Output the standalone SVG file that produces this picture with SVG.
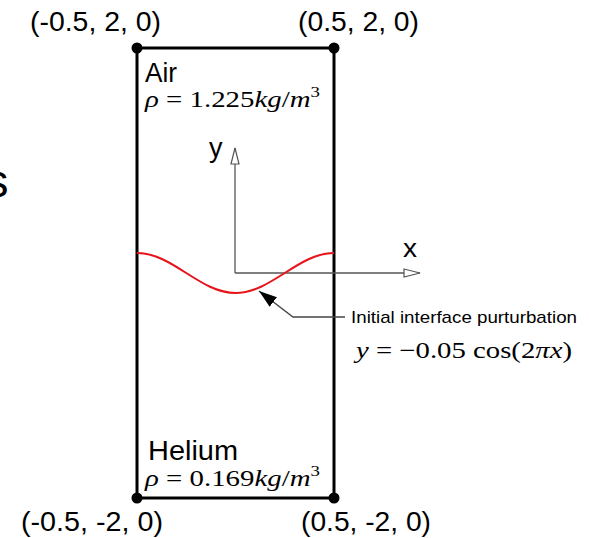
<svg xmlns="http://www.w3.org/2000/svg" width="589" height="538" viewBox="0 0 589 538">
<style>
.lbl{font-family:"Liberation Sans",Arial,sans-serif;fill:#000}
.coord{font-size:27px}
.math{font-family:"Liberation Serif","Times New Roman",serif;fill:#000;font-size:23px}
.it{font-style:italic}
.axis{stroke:#555;stroke-width:1.3;fill:none}
.dot{fill:#000}
</style>
<defs>
<marker id="open" markerUnits="userSpaceOnUse" markerWidth="20" markerHeight="12" refX="17" refY="5" orient="auto">
<path d="M1,1 L17,5 L1,9 Z" fill="#fff" stroke="#555" stroke-width="1.2"/>
</marker>
<marker id="solid" markerUnits="userSpaceOnUse" markerWidth="20" markerHeight="14" refX="18" refY="6" orient="auto">
<path d="M0,0 L18,6 L0,12 Z" fill="#000"/>
</marker>
</defs>
<rect width="589" height="538" fill="#fff"/>
<text class="lbl" x="-15" y="197" font-size="47">s</text>
<g id="domain">
<rect x="137" y="48" width="197" height="450" fill="none" stroke="#000" stroke-width="3"/>
</g>
<g id="corners">
<circle class="dot" cx="137" cy="48" r="5.5"/>
<circle class="dot" cx="334" cy="48" r="5.5"/>
<circle class="dot" cx="137" cy="498" r="5.5"/>
<circle class="dot" cx="334" cy="498" r="5.5"/>
<text class="lbl coord" x="30" y="31" textLength="131" lengthAdjust="spacingAndGlyphs">(-0.5, 2, 0)</text>
<text class="lbl coord" x="298" y="31" textLength="121" lengthAdjust="spacingAndGlyphs">(0.5, 2, 0)</text>
<text class="lbl coord" x="21" y="531" textLength="142" lengthAdjust="spacingAndGlyphs">(-0.5, -2, 0)</text>
<text class="lbl coord" x="301" y="531" textLength="130" lengthAdjust="spacingAndGlyphs">(0.5, -2, 0)</text>
</g>
<g id="air">
<text class="lbl" x="145" y="82" font-size="27" textLength="32" lengthAdjust="spacingAndGlyphs">Air</text>
<text class="math" x="145" y="107" textLength="175" lengthAdjust="spacingAndGlyphs"><tspan class="it">ρ</tspan> = 1.225<tspan class="it">kg</tspan>/<tspan class="it">m</tspan><tspan font-size="15" dy="-10">3</tspan></text>
</g>
<g id="helium">
<text class="lbl" x="148" y="460" font-size="27" textLength="90" lengthAdjust="spacingAndGlyphs">Helium</text>
<text class="math" x="145" y="486" textLength="175" lengthAdjust="spacingAndGlyphs"><tspan class="it">ρ</tspan> = 0.169<tspan class="it">kg</tspan>/<tspan class="it">m</tspan><tspan font-size="15" dy="-10">3</tspan></text>
</g>
<g id="axes">
<line class="axis" x1="235" y1="273" x2="235" y2="148" marker-end="url(#open)"/>
<line class="axis" x1="235" y1="273" x2="420" y2="273" marker-end="url(#open)"/>
<text class="lbl" x="209" y="157" font-size="27">y</text>
<text class="lbl" x="403" y="257" font-size="25" textLength="14" lengthAdjust="spacingAndGlyphs">x</text>
</g>
<g id="interface">
<path d="M137,253 C172.8,253 199.7,293 235.5,293 C271.3,293 298.2,253 334,253" fill="none" stroke="#e8141c" stroke-width="2"/>
</g>
<g id="connectors">
<polyline points="345,317 293,317 259,291" fill="none" stroke="#444" stroke-width="1.3" marker-end="url(#solid)"/>
</g>
<g id="annotation">
<text class="lbl" x="351" y="323" font-size="17" textLength="226" lengthAdjust="spacingAndGlyphs">Initial interface purturbation</text>
<text class="math" x="356" y="358" font-size="24" textLength="216" lengthAdjust="spacingAndGlyphs"><tspan class="it">y</tspan> = −0.05 cos(2<tspan class="it">πx</tspan>)</text>
</g>
</svg>
